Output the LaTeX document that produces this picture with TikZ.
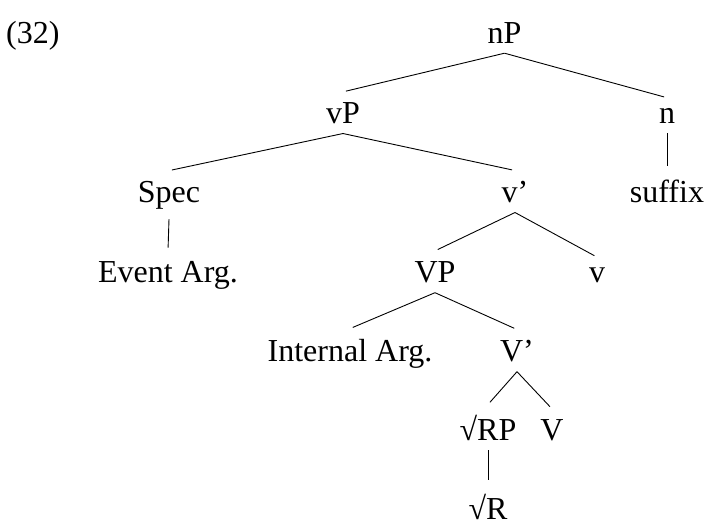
\documentclass[tikz,border=0pt]{standalone}
\usepackage{fontspec}
\setmainfont{Liberation Serif}
\begin{document}
\begin{tikzpicture}[x=1pt,y=1pt,
  lab/.style={anchor=base,inner xsep=2pt,inner ysep=10pt,font=\fontsize{32}{38}\selectfont},
  edge/.style={line width=0.9pt,shorten >=3pt}]
\useasboundingbox (0,0) rectangle (707,-528);
\node[lab,anchor=base west,inner xsep=0pt] (ex) at (6,-43) {(32)};
\node[lab] (nP) at (504.5,-43) {nP};
\node[lab] (vP) at (343,-123) {vP};
\node[lab] (n) at (667,-123) {n};
\node[lab] (Spec) at (169,-202) {Spec};
\node[lab] (vbar) at (515,-202) {v’};
\node[lab] (suffix) at (667,-202) {suffix};
\node[lab] (EA) at (168,-282) {Event Arg.};
\node[lab] (VP) at (435,-282) {VP};
\node[lab] (v) at (597,-282) {v};
\node[lab] (IA) at (350,-361) {Internal Arg.};
\node[lab] (Vbar) at (517,-361) {V’};
\node[lab] (RP) at (488,-440) {√RP};
\node[lab] (V) at (552,-440) {V};
\node[lab] (R) at (488,-519) {√R};
\draw[edge] (nP.south) -- (vP.north);
\draw[edge] (nP.south) -- (n.north);
\draw[edge] (vP.south) -- (Spec.north);
\draw[edge] (vP.south) -- (vbar.north);
\draw[edge] (n.south) -- (suffix.north);
\draw[edge] (Spec.south) -- (EA.north);
\draw[edge] (vbar.south) -- (VP.north);
\draw[edge] (vbar.south) -- (v.north);
\draw[edge] (VP.south) -- (IA.north);
\draw[edge] (VP.south) -- (Vbar.north);
\draw[edge] (Vbar.south) -- (RP.north);
\draw[edge] (Vbar.south) -- (V.north);
\draw[edge] (RP.south) -- (R.north);
\end{tikzpicture}
\end{document}
